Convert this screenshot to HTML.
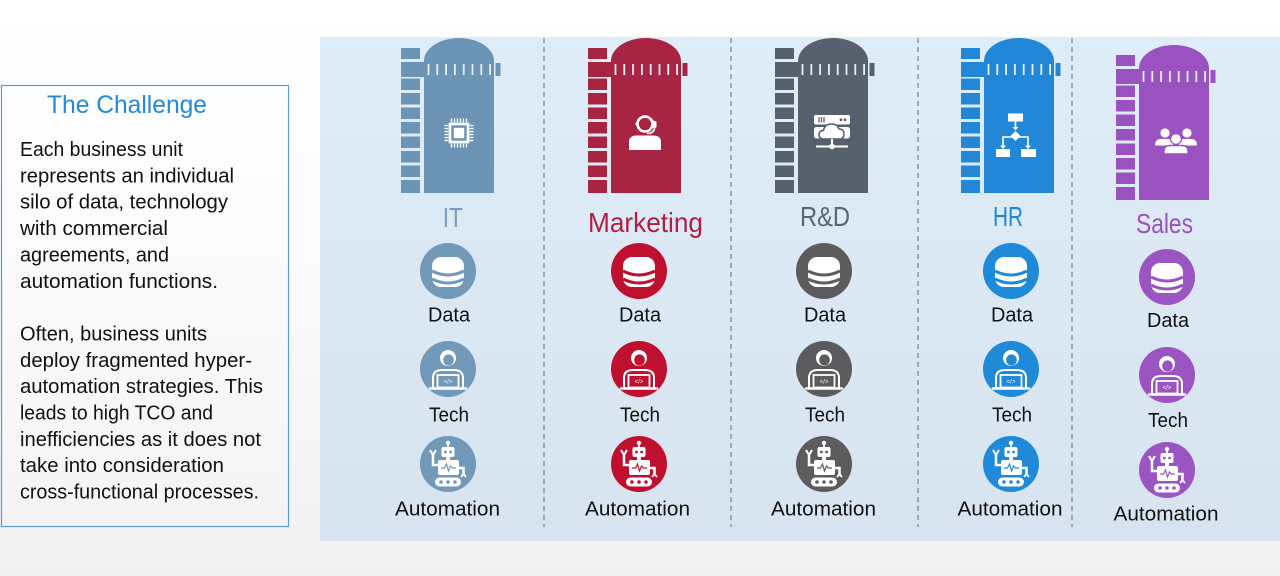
<!DOCTYPE html>
<html>
<head>
<meta charset="utf-8">
<style>
html,body{margin:0;padding:0;background:#fff;}
svg{display:block;}
text{font-family:"Liberation Sans",sans-serif;}
</style>
</head>
<body>
<svg width="1280" height="576" viewBox="0 0 1280 576" xmlns="http://www.w3.org/2000/svg">
<defs>
  <linearGradient id="bg" x1="0" y1="0" x2="0" y2="1">
    <stop offset="0" stop-color="#ffffff"/>
    <stop offset="0.45" stop-color="#fbfbfb"/>
    <stop offset="1" stop-color="#f1f1f1"/>
  </linearGradient>
  <linearGradient id="pg" x1="0" y1="0" x2="0" y2="1">
    <stop offset="0" stop-color="#dfedf9"/>
    <stop offset="1" stop-color="#d7e4ef"/>
  </linearGradient>
  <linearGradient id="bx" x1="0" y1="0" x2="0" y2="1">
    <stop offset="0" stop-color="#ffffff"/>
    <stop offset="1" stop-color="#f4f4f4"/>
  </linearGradient>

  <!-- silo in IT coordinates -->
  <g id="silo">
    <g fill="currentColor">
      <path d="M424,193 V61 A35,23 0 0 1 494,61 V193 Z"/>
      <rect x="401" y="48" width="19" height="11"/>
      <rect x="401" y="62" width="24" height="15"/>
      <rect x="495.5" y="63" width="5" height="13"/>
      <rect x="401" y="78.5" width="19" height="11.5"/>
      <rect x="401" y="93" width="19" height="11.5"/>
      <rect x="401" y="107.5" width="19" height="11.5"/>
      <rect x="401" y="122" width="19" height="11.5"/>
      <rect x="401" y="136.5" width="19" height="11.5"/>
      <rect x="401" y="151" width="19" height="11.5"/>
      <rect x="401" y="165.5" width="19" height="11.5"/>
      <rect x="401" y="180" width="19" height="13"/>
    </g>
    <g stroke="#e4eef8" stroke-width="1.8">
      <line x1="428.5" y1="64" x2="428.5" y2="75"/>
      <line x1="437.3" y1="64" x2="437.3" y2="75"/>
      <line x1="446.1" y1="64" x2="446.1" y2="75"/>
      <line x1="454.9" y1="64" x2="454.9" y2="75"/>
      <line x1="463.7" y1="64" x2="463.7" y2="75"/>
      <line x1="472.5" y1="64" x2="472.5" y2="75"/>
      <line x1="481.3" y1="64" x2="481.3" y2="75"/>
      <line x1="490.1" y1="64" x2="490.1" y2="75"/>
    </g>
  </g>

  <!-- data icon -->
  <g id="dataI">
    <circle r="28" fill="currentColor"/>
    <rect x="-16" y="-14" width="32" height="30" rx="9" fill="#fff"/>
    <path d="M-16,0 Q0,8 16,0" stroke="currentColor" stroke-width="3" fill="none"/>
    <path d="M-16,8 Q0,16 16,8" stroke="currentColor" stroke-width="3" fill="none"/>
  </g>

  <!-- tech icon -->
  <g id="techI">
    <circle r="28" fill="currentColor"/>
    <path d="M-15,19 L-15,9 Q-15,1 -6,1 L6,1 Q15,1 15,9 L15,19" stroke="#fff" stroke-width="2" fill="none"/>
    <circle cx="0" cy="-11" r="8" fill="#fff"/>
    <ellipse cx="0.5" cy="-9" rx="5.3" ry="5.6" fill="currentColor"/>
    <rect x="-10.5" y="6" width="21" height="12.5" fill="currentColor" stroke="#fff" stroke-width="1.8"/>
    <text x="0" y="14.5" font-size="6" fill="#fff" text-anchor="middle">&lt;/&gt;</text>
    <line x1="-18" y1="19.5" x2="18" y2="19.5" stroke="#fff" stroke-width="2.5" stroke-linecap="round"/>
  </g>

  <!-- automation icon -->
  <g id="autoI">
    <circle r="28" fill="currentColor"/>
    <line x1="0" y1="-21" x2="0" y2="-16" stroke="#fff" stroke-width="1.8"/>
    <circle cx="0" cy="-21" r="2.2" fill="#fff"/>
    <rect x="-6.5" y="-17" width="13" height="10" rx="2" fill="#fff"/>
    <circle cx="-2.6" cy="-12" r="1.4" fill="currentColor"/>
    <circle cx="2.6" cy="-12" r="1.4" fill="currentColor"/>
    <rect x="-2" y="-7.5" width="4" height="4" fill="#fff"/>
    <rect x="-10" y="-4" width="21" height="15" rx="2" fill="#fff"/>
    <path d="M-7,4 L-3.5,4 L-1.5,0 L0.5,7 L2.5,2 L4.5,4 L8,4" stroke="currentColor" stroke-width="1.2" fill="none"/>
    <path d="M-10,1 L-15,1 L-15,-9" stroke="#fff" stroke-width="2.5" fill="none"/>
    <path d="M-18,-14 L-15,-9 L-12,-14" stroke="#fff" stroke-width="2" fill="none"/>
    <path d="M11,4 L15.5,4 L15.5,10" stroke="#fff" stroke-width="2.5" fill="none"/>
    <path d="M13,13 L15.5,10 L18,13" stroke="#fff" stroke-width="1.8" fill="none"/>
    <rect x="-13" y="13.5" width="26" height="9" rx="4.5" fill="#fff"/>
    <circle cx="-7" cy="18" r="1.8" fill="currentColor"/>
    <circle cx="0" cy="18" r="1.8" fill="currentColor"/>
    <circle cx="7" cy="18" r="1.8" fill="currentColor"/>
  </g>
</defs>

<!-- backgrounds -->
<rect x="0" y="0" width="1280" height="576" fill="url(#bg)"/>
<rect x="320" y="37" width="960" height="504" fill="url(#pg)"/>

<!-- left box -->
<rect x="1.5" y="85.5" width="287" height="441" fill="url(#bx)" stroke="#5b9bd5" stroke-width="1.2"/>
<text x="47" y="113" font-size="25" fill="#2189d5" textLength="160" lengthAdjust="spacingAndGlyphs">The Challenge</text>
<g font-size="20" fill="#111">
  <text x="20" y="156" textLength="163" lengthAdjust="spacingAndGlyphs">Each business unit</text>
  <text x="20" y="182.35" textLength="214" lengthAdjust="spacingAndGlyphs">represents an individual</text>
  <text x="20" y="208.7" textLength="208" lengthAdjust="spacingAndGlyphs">silo of data, technology</text>
  <text x="20" y="235.05" textLength="148" lengthAdjust="spacingAndGlyphs">with commercial</text>
  <text x="20" y="261.4" textLength="149" lengthAdjust="spacingAndGlyphs">agreements, and</text>
  <text x="20" y="287.75" textLength="198" lengthAdjust="spacingAndGlyphs">automation functions.</text>
  <text x="20" y="340.45" textLength="187" lengthAdjust="spacingAndGlyphs">Often, business units</text>
  <text x="20" y="366.8" textLength="232" lengthAdjust="spacingAndGlyphs">deploy fragmented hyper-</text>
  <text x="20" y="393.15" textLength="243" lengthAdjust="spacingAndGlyphs">automation strategies. This</text>
  <text x="20" y="419.5" textLength="193" lengthAdjust="spacingAndGlyphs">leads to high TCO and</text>
  <text x="20" y="445.85" textLength="241" lengthAdjust="spacingAndGlyphs">inefficiencies as it does not</text>
  <text x="20" y="472.2" textLength="204" lengthAdjust="spacingAndGlyphs">take into consideration</text>
  <text x="20" y="498.55" textLength="239" lengthAdjust="spacingAndGlyphs">cross-functional processes.</text>
</g>

<!-- dividers -->
<g stroke="#8796a4" stroke-width="1.5" stroke-dasharray="5,4">
  <line x1="544" y1="38" x2="544" y2="527"/>
  <line x1="731" y1="38" x2="731" y2="527"/>
  <line x1="918" y1="38" x2="918" y2="527"/>
  <line x1="1072" y1="38" x2="1072" y2="527"/>
</g>

<!-- silos -->
<use href="#silo" x="0" y="0" style="color:#6c94b5"/>
<use href="#silo" x="187" y="0" style="color:#a72442"/>
<use href="#silo" x="374" y="0" style="color:#56616d"/>
<use href="#silo" x="560" y="0" style="color:#2187d6"/>
<use href="#silo" x="715" y="7" style="color:#9a52c0"/>

<!-- IT chip -->
<g transform="translate(459,133)" fill="#fff">
  <rect x="-9" y="-9" width="18" height="18" fill="none" stroke="#fff" stroke-width="2.6"/>
  <rect x="-5.2" y="-5.2" width="10.4" height="10.4"/>
  <g stroke="#fff" stroke-width="1.3">
    <line x1="-7.5" y1="-10.5" x2="-7.5" y2="-14.5"/><line x1="-4.5" y1="-10.5" x2="-4.5" y2="-14.5"/><line x1="-1.5" y1="-10.5" x2="-1.5" y2="-14.5"/><line x1="1.5" y1="-10.5" x2="1.5" y2="-14.5"/><line x1="4.5" y1="-10.5" x2="4.5" y2="-14.5"/><line x1="7.5" y1="-10.5" x2="7.5" y2="-14.5"/>
    <line x1="-7.5" y1="10.5" x2="-7.5" y2="14.5"/><line x1="-4.5" y1="10.5" x2="-4.5" y2="14.5"/><line x1="-1.5" y1="10.5" x2="-1.5" y2="14.5"/><line x1="1.5" y1="10.5" x2="1.5" y2="14.5"/><line x1="4.5" y1="10.5" x2="4.5" y2="14.5"/><line x1="7.5" y1="10.5" x2="7.5" y2="14.5"/>
    <line y1="-7.5" x1="-10.5" y2="-7.5" x2="-14.5"/><line y1="-4.5" x1="-10.5" y2="-4.5" x2="-14.5"/><line y1="-1.5" x1="-10.5" y2="-1.5" x2="-14.5"/><line y1="1.5" x1="-10.5" y2="1.5" x2="-14.5"/><line y1="4.5" x1="-10.5" y2="4.5" x2="-14.5"/><line y1="7.5" x1="-10.5" y2="7.5" x2="-14.5"/>
    <line y1="-7.5" x1="10.5" y2="-7.5" x2="14.5"/><line y1="-4.5" x1="10.5" y2="-4.5" x2="14.5"/><line y1="-1.5" x1="10.5" y2="-1.5" x2="14.5"/><line y1="1.5" x1="10.5" y2="1.5" x2="14.5"/><line y1="4.5" x1="10.5" y2="4.5" x2="14.5"/><line y1="7.5" x1="10.5" y2="7.5" x2="14.5"/>
  </g>
</g>

<!-- Marketing headset person -->
<g transform="translate(645,133)">
  <circle cx="0" cy="-9" r="7.5" fill="none" stroke="#fff" stroke-width="2.6"/>
  <path d="M-9,-8 A9.5,9.5 0 0 1 9.5,-9" fill="none" stroke="#fff" stroke-width="1.6"/>
  <rect x="7" y="-12" width="4.5" height="7" rx="1.5" fill="#fff"/>
  <path d="M9.5,-5 Q9,0.5 2,0.5" fill="none" stroke="#fff" stroke-width="1.6"/>
  <path d="M-16,17 L-16,9 Q-16,2.5 -8,2.5 L8,2.5 Q16,2.5 16,9 L16,17 Z" fill="#fff"/>
</g>

<!-- R&D server cloud -->
<g transform="translate(832,132)">
  <rect x="-18" y="-17" width="36" height="9.5" rx="2" fill="#fff"/>
  <g stroke="#56616d" stroke-width="1.3">
    <line x1="-13" y1="-15" x2="-13" y2="-9.5"/><line x1="-10.5" y1="-15" x2="-10.5" y2="-9.5"/><line x1="-8" y1="-15" x2="-8" y2="-9.5"/>
  </g>
  <circle cx="9" cy="-12.2" r="1.4" fill="#56616d"/>
  <circle cx="13" cy="-12.2" r="1.4" fill="#56616d"/>
  <rect x="-18" y="-5" width="36" height="11.5" rx="2.5" fill="#fff"/>
  <path d="M-8,7 Q-13,7 -13,2.5 Q-13,-1.5 -8.5,-1.5 Q-7.5,-8 -0.5,-8 Q5.5,-8 7,-3 Q12,-3 12,2 Q12,7 7.5,7 Z" fill="#fff" stroke="#56616d" stroke-width="1.5"/>
  <line x1="0" y1="7" x2="0" y2="14" stroke="#fff" stroke-width="2"/>
  <line x1="-16" y1="14.5" x2="16" y2="14.5" stroke="#fff" stroke-width="2"/>
  <circle cx="0" cy="14.5" r="2.8" fill="#fff"/>
</g>

<!-- HR flowchart -->
<g transform="translate(1016,135)" fill="#fff">
  <rect x="-8" y="-21.5" width="15" height="8"/>
  <line x1="-0.5" y1="-13.5" x2="-0.5" y2="-7" stroke="#fff" stroke-width="1.6"/>
  <path d="M-3.5,-8 L2.5,-8 L-0.5,-4.5 Z"/>
  <path d="M-0.5,-4 L4.5,1 L-0.5,6 L-5.5,1 Z"/>
  <path d="M-13,12 V2 H12 V12" fill="none" stroke="#fff" stroke-width="1.6"/>
  <path d="M-16,10.5 L-10,10.5 L-13,14 Z"/>
  <path d="M9,10.5 L15,10.5 L12,14 Z"/>
  <rect x="-20" y="14" width="14" height="8"/>
  <rect x="5" y="14" width="15" height="8"/>
</g>

<!-- Sales people -->
<g transform="translate(1175,141)" fill="#fff">
  <circle cx="-10" cy="-8" r="4.6"/>
  <circle cx="12" cy="-8" r="4.6"/>
  <path d="M-20,4.5 Q-20,-2 -14,-2 L-6,-2 Q-2,-2 -2,2 L-2,4.5 Z"/>
  <path d="M4,4.5 L4,2 Q4,-2 8,-2 L16,-2 Q22,-2 22,4.5 Z"/>
  <circle cx="1" cy="-2" r="6" fill="#9a52c0"/>
  <circle cx="1" cy="-2" r="4.8"/>
  <path d="M-11,13 L-11,9.5 Q-11,4.5 -5,4.5 L7,4.5 Q13,4.5 13,9.5 L13,13 Z" stroke="#9a52c0" stroke-width="1.5"/>
</g>

<!-- column labels -->
<g font-size="28" text-anchor="middle">
  <text x="452.8" y="227" fill="#7a9cba" textLength="20" lengthAdjust="spacingAndGlyphs">IT</text>
  <text x="645.5" y="232" fill="#b0203e" textLength="115" lengthAdjust="spacingAndGlyphs">Marketing</text>
  <text x="825" y="226" fill="#5c6670" textLength="50" lengthAdjust="spacingAndGlyphs">R&amp;D</text>
  <text x="1008" y="226" fill="#1e87d5" textLength="30" lengthAdjust="spacingAndGlyphs">HR</text>
  <text x="1164.5" y="233" fill="#9b51c0" textLength="57" lengthAdjust="spacingAndGlyphs">Sales</text>
</g>

<!-- circle icons -->
<use href="#dataI" x="448" y="271" style="color:#7399b9"/>
<use href="#techI" x="448" y="369" style="color:#7399b9"/>
<use href="#autoI" x="448" y="464" style="color:#7399b9"/>

<use href="#dataI" x="639" y="271" style="color:#c0102f"/>
<use href="#techI" x="639" y="369" style="color:#c0102f"/>
<use href="#autoI" x="639" y="464" style="color:#c0102f"/>

<use href="#dataI" x="824" y="271" style="color:#5c5c5f"/>
<use href="#techI" x="824" y="369" style="color:#5c5c5f"/>
<use href="#autoI" x="824" y="464" style="color:#5c5c5f"/>

<use href="#dataI" x="1011" y="271" style="color:#1f8ad8"/>
<use href="#techI" x="1011" y="369" style="color:#1f8ad8"/>
<use href="#autoI" x="1011" y="464" style="color:#1f8ad8"/>

<use href="#dataI" x="1167" y="277" style="color:#9b55c2"/>
<use href="#techI" x="1167" y="375" style="color:#9b55c2"/>
<use href="#autoI" x="1167" y="470" style="color:#9b55c2"/>

<!-- circle labels -->
<g font-size="20" fill="#111" text-anchor="middle">
  <text x="449" y="321.5" textLength="42" lengthAdjust="spacingAndGlyphs">Data</text>
  <text x="449" y="421.5" textLength="40" lengthAdjust="spacingAndGlyphs">Tech</text>
  <text x="447.5" y="515.5" textLength="105" lengthAdjust="spacingAndGlyphs">Automation</text>

  <text x="640" y="321.5" textLength="42" lengthAdjust="spacingAndGlyphs">Data</text>
  <text x="640" y="421.5" textLength="40" lengthAdjust="spacingAndGlyphs">Tech</text>
  <text x="637.5" y="515.5" textLength="105" lengthAdjust="spacingAndGlyphs">Automation</text>

  <text x="825" y="321.5" textLength="42" lengthAdjust="spacingAndGlyphs">Data</text>
  <text x="825" y="421.5" textLength="40" lengthAdjust="spacingAndGlyphs">Tech</text>
  <text x="823.5" y="515.5" textLength="105" lengthAdjust="spacingAndGlyphs">Automation</text>

  <text x="1012" y="321.5" textLength="42" lengthAdjust="spacingAndGlyphs">Data</text>
  <text x="1012" y="421.5" textLength="40" lengthAdjust="spacingAndGlyphs">Tech</text>
  <text x="1010" y="515.5" textLength="105" lengthAdjust="spacingAndGlyphs">Automation</text>

  <text x="1168" y="327" textLength="42" lengthAdjust="spacingAndGlyphs">Data</text>
  <text x="1168" y="427" textLength="40" lengthAdjust="spacingAndGlyphs">Tech</text>
  <text x="1166" y="520.5" textLength="105" lengthAdjust="spacingAndGlyphs">Automation</text>
</g>
</svg>
</body>
</html>
